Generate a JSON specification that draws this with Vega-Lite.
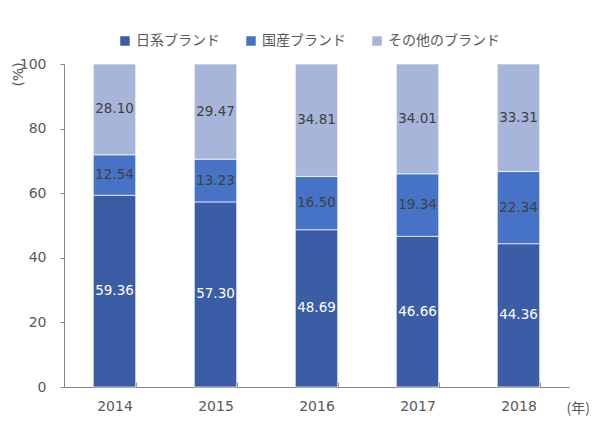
{
  "$schema": "https://vega.github.io/schema/vega-lite/v6.json",
  "width": 505,
  "height": 323,
  "autosize": {"type": "none"},
  "padding": {"left": 64, "top": 64, "right": 31, "bottom": 34},
  "background": "white",
  "config": {"view": {"stroke": null}, "font": "DejaVu Sans"},
  "data": {"values": [
    {"year": "2014", "brand": "日系ブランド", "value": 59.36},
    {"year": "2014", "brand": "国産ブランド", "value": 12.54},
    {"year": "2014", "brand": "その他のブランド", "value": 28.10},
    {"year": "2015", "brand": "日系ブランド", "value": 57.30},
    {"year": "2015", "brand": "国産ブランド", "value": 13.23},
    {"year": "2015", "brand": "その他のブランド", "value": 29.47},
    {"year": "2016", "brand": "日系ブランド", "value": 48.69},
    {"year": "2016", "brand": "国産ブランド", "value": 16.50},
    {"year": "2016", "brand": "その他のブランド", "value": 34.81},
    {"year": "2017", "brand": "日系ブランド", "value": 46.66},
    {"year": "2017", "brand": "国産ブランド", "value": 19.34},
    {"year": "2017", "brand": "その他のブランド", "value": 34.01},
    {"year": "2018", "brand": "日系ブランド", "value": 44.36},
    {"year": "2018", "brand": "国産ブランド", "value": 22.34},
    {"year": "2018", "brand": "その他のブランド", "value": 33.31}
  ]},
  "transform": [
    {"stack": "value", "groupby": ["year"], "sort": [{"field": "brand", "order": "descending"}], "as": ["v0", "v1"]},
    {"calculate": "(datum.v0 + datum.v1) / 2", "as": "labelPos"}
  ],
  "encoding": {
    "x": {
      "field": "year", "type": "nominal",
      "scale": {"paddingInner": 0.58, "paddingOuter": 0.29},
      "axis": {
        "title": "(年)", "titleX": 502, "titleY": 21, "titleAlign": "left", "titleBaseline": "middle",
        "titleFont": "Noto Sans CJK JP", "titleFontSize": 14, "titleFontWeight": "normal", "titleColor": "#595959",
        "labelAngle": 0, "labelFontSize": 14, "labelColor": "#595959", "labelPadding": 17,
        "tickBand": "extent", "tickSize": -5, "tickColor": "#868686", "domainColor": "#868686"
      }
    }
  },
  "layer": [
    {
      "mark": {"type": "bar", "stroke": "white", "strokeWidth": 0.7},
      "encoding": {
        "y": {
          "field": "v0", "type": "quantitative",
          "scale": {"domain": [0, 100], "nice": false},
          "axis": {
            "title": "(%)", "titleAngle": -90, "titleX": -46, "titleY": 10, "titleAlign": "center", "titleBaseline": "middle",
            "titleFontSize": 14, "titleFontWeight": "normal", "titleColor": "#595959",
            "values": [0, 20, 40, 60, 80, 100], "labelFontSize": 14, "labelColor": "#595959",
            "labelPadding": 14, "tickSize": 4, "tickColor": "#868686", "domainColor": "#868686", "grid": false
          }
        },
        "y2": {"field": "v1"},
        "color": {
          "field": "brand", "type": "nominal",
          "scale": {"domain": ["日系ブランド", "国産ブランド", "その他のブランド"], "range": ["#3A5DA5", "#4673C6", "#A7B5DB"]},
          "legend": {
            "title": null, "orient": "none", "direction": "horizontal", "legendX": 54, "legendY": -30,
            "symbolType": "square", "symbolSize": 90, "symbolStrokeWidth": 0,
            "labelFont": "Noto Sans CJK JP", "labelFontSize": 14, "labelColor": "#595959",
            "labelOffset": 4, "columnPadding": 24
          }
        }
      }
    },
    {
      "mark": {"type": "text", "fontSize": 13.5, "baseline": "middle"},
      "encoding": {
        "y": {"field": "labelPos", "type": "quantitative"},
        "text": {"field": "value", "type": "quantitative", "format": ".2f"},
        "color": {
          "field": "brand", "type": "nominal",
          "scale": {"domain": ["日系ブランド", "国産ブランド", "その他のブランド"], "range": ["#FFFFFF", "#404040", "#404040"]},
          "legend": null
        }
      }
    }
  ],
  "resolve": {"scale": {"color": "independent"}}
}
